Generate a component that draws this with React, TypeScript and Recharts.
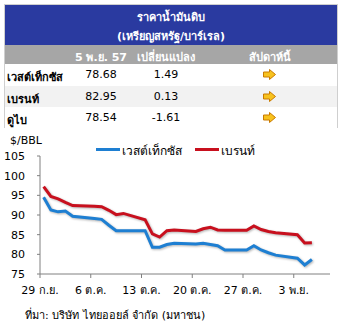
import React from "react";
import { LineChart, Line, XAxis, YAxis, CartesianGrid } from "recharts";

// trading days, counted from 29 ก.ย.
const days = [0, 1, 2, 3, 4, 7, 8, 9, 10, 11, 14, 15, 16, 17, 18, 21, 22, 23, 24, 25, 28, 29, 30, 31, 32, 35, 36, 37];
const wti = [94.5, 91.3, 90.8, 91.0, 89.7, 89.1, 88.9, 87.4, 86.0, 86.0, 86.0, 81.8, 81.8, 82.5, 82.8, 82.6, 82.8, 82.5, 82.2, 81.1, 81.1, 82.2, 81.1, 80.4, 79.8, 79.0, 77.3, 78.68];
const brent = [97.2, 94.7, 94.1, 93.2, 92.4, 92.2, 92.1, 91.2, 90.1, 90.4, 88.8, 85.2, 84.4, 86.0, 86.2, 85.8, 86.5, 86.9, 86.2, 86.1, 86.1, 87.2, 86.3, 85.8, 85.5, 85.0, 82.9, 82.95];

const xTicks = [0, 7, 14, 21, 28, 35];
const xLabels = ["29 ก.ย.", "6 ต.ค.", "13 ต.ค.", "20 ต.ค.", "27 ต.ค.", "3 พ.ย."];
const yTicks = [75, 80, 85, 90, 95, 100, 105];

const rowNames = ["เวสต์เท็กซัส", "เบรนท์", "ดูไบ"];
const rowPrices = ["78.68", "82.95", "78.54"];
const rowChanges = ["1.49", "0.13", "-1.61"];

const BLUE = "#1e7fd2";
const RED = "#c8101e";
const FONT = "Tahoma, 'DejaVu Sans', 'Noto Sans', sans-serif";

const data = days.map((d, i) => ({ x: d + 0.5, wti: wti[i], brent: brent[i] }));

function Arrow() {
  return (
    <svg width="13" height="11" viewBox="0 0 13 11">
      <polygon
        points="0.5,3 6.5,3 6.5,0.5 12.5,5.5 6.5,10.5 6.5,8 0.5,8"
        fill="#f7c21e"
        stroke="#c97a00"
        strokeWidth="1"
      />
    </svg>
  );
}

function PriceTable() {
  const cell: React.CSSProperties = { position: "absolute", textAlign: "center" };
  return (
    <div
      style={{
        position: "absolute",
        left: 4,
        top: 4,
        width: 334,
        height: 124,
        border: "1px solid #cfcfcf",
        boxSizing: "border-box",
        fontFamily: FONT,
        fontSize: 11,
      }}
    >
      <div style={{ position: "absolute", left: 0, top: 0, width: 332, height: 40, background: "#2a3aa0", color: "#fff", fontWeight: "bold" }}>
        <div style={{ ...cell, left: 0, width: 332, top: 3 }}>ราคาน้ำมันดิบ</div>
        <div style={{ ...cell, left: 0, width: 332, top: 22 }}>(เหรียญสหรัฐ/บาร์เรล)</div>
      </div>
      <div style={{ position: "absolute", left: 0, top: 40, width: 332, height: 19, background: "#a6a6a6", color: "#fff", fontWeight: "bold" }}>
        <div style={{ ...cell, left: 66, width: 60, top: 3 }}>5 พ.ย. 57</div>
        <div style={{ ...cell, left: 126, width: 70, top: 3 }}>เปลี่ยนแปลง</div>
        <div style={{ ...cell, left: 230, width: 70, top: 3 }}>สัปดาห์นี้</div>
      </div>
      {rowNames.map((n, i) => (
        <div
          key={n}
          style={{
            position: "absolute",
            left: 0,
            top: 59 + i * 21.7,
            width: 332,
            height: 21.7,
            background: i === 1 ? "#f2f2f2" : "#fff",
            color: "#000",
          }}
        >
          <div style={{ position: "absolute", left: 2, top: 4, fontWeight: "bold" }}>{n}</div>
          <div style={{ ...cell, left: 66, width: 60, top: 4 }}>{rowPrices[i]}</div>
          <div style={{ ...cell, left: 126, width: 70, top: 4 }}>{rowChanges[i]}</div>
          <div style={{ position: "absolute", left: 258, top: 5 }}>
            <Arrow />
          </div>
        </div>
      ))}
    </div>
  );
}

export default function App() {
  return (
    <div style={{ position: "absolute", left: 0, top: 0, width: 345, height: 325, background: "#fff", fontFamily: FONT }}>
      <style>{`.recharts-line-curve { filter: drop-shadow(1px 1.5px 0.8px rgba(0,0,0,0.3)); }`}</style>
      <PriceTable />
      <div style={{ position: "absolute", left: 10, top: 134, fontSize: 11, color: "#000" }}>$/BBL</div>
      <div style={{ position: "absolute", left: 96, top: 148, width: 24, height: 3, background: BLUE }} />
      <div style={{ position: "absolute", left: 122, top: 141, fontSize: 12, color: "#000" }}>{rowNames[0]}</div>
      <div style={{ position: "absolute", left: 195, top: 148, width: 24, height: 3, background: RED }} />
      <div style={{ position: "absolute", left: 221, top: 141, fontSize: 12, color: "#000" }}>{rowNames[1]}</div>
      <div style={{ position: "absolute", left: 0, top: 130 }}>
        <LineChart width={345} height={195} data={data} margin={{ top: 26, right: 15, bottom: 21, left: 8 }}>
          <CartesianGrid stroke="none" />
          <XAxis
            dataKey="x"
            type="number"
            domain={[0, 40]}
            ticks={xTicks}
            tickFormatter={(v: number) => xLabels[xTicks.indexOf(v)] ?? ""}
            interval={0}
            height={30}
            stroke="#808080"
            tickSize={4}
            tickMargin={8}
            tick={{ fontSize: 11, fill: "#000", fontFamily: FONT }}
            allowDataOverflow
          />
          <YAxis
            domain={[75, 105]}
            ticks={yTicks}
            interval={0}
            width={32}
            stroke="#808080"
            tickSize={3}
            tickMargin={12}
            tick={{ fontSize: 11, fill: "#000", fontFamily: FONT }}
          />
          <Line dataKey="wti" stroke={BLUE} strokeWidth={3} dot={false} isAnimationActive={false} type="linear" />
          <Line dataKey="brent" stroke={RED} strokeWidth={3} dot={false} isAnimationActive={false} type="linear" />
        </LineChart>
      </div>
      <div style={{ position: "absolute", left: 25, top: 306, fontSize: 11, color: "#000" }}>
        ที่มา: บริษัท ไทยออยล์ จำกัด (มหาชน)
      </div>
    </div>
  );
}
